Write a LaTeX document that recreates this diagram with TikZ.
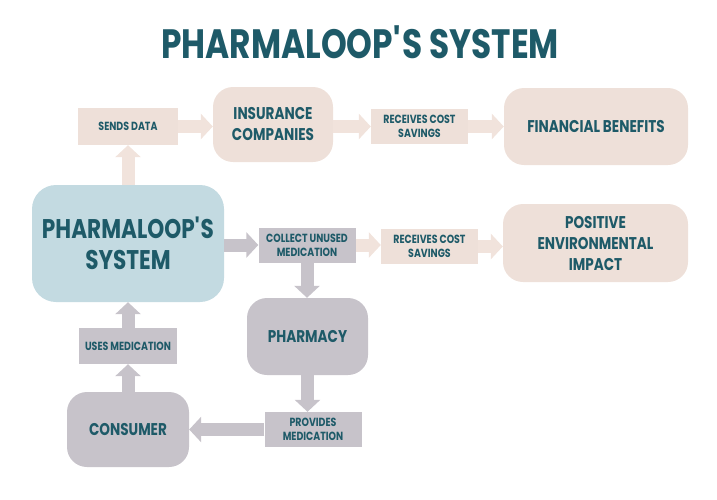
\documentclass[tikz,border=0pt]{standalone}
\usepackage{fontspec}
\setmainfont{Poppins}[FakeStretch=0.8]
\usetikzlibrary{arrows.meta}

\definecolor{inktext}{HTML}{1E5A68}
\definecolor{sand}{HTML}{EEE0D9}
\definecolor{sandarrow}{HTML}{F1E3DC}
\definecolor{stone}{HTML}{C7C3CA}
\definecolor{sky}{HTML}{C3DAE1}
\newcommand{\apos}{\textquotesingle}

\tikzset{
  bigbox/.style={rounded corners=20pt, align=center, text=inktext,
    font=\bfseries\fontsize{17}{21}\selectfont, inner sep=0pt},
  smallbox/.style={align=center, text=inktext,
    font=\bfseries\fontsize{11.8}{14}\selectfont, inner sep=0pt,
    minimum width=97pt, minimum height=35pt},
  flow/.style={line width=13pt, -{Triangle[length=12pt,width=25pt]}},
}

\begin{document}
\begin{tikzpicture}[x=1pt,y=-1pt]
\useasboundingbox (0,0) rectangle (717,499);
%title
\node[text=inktext, font=\bfseries\fontsize{41}{41}\selectfont] (title) at (360,42) {PHARMALOOP\apos S SYSTEM};
%big boxes
\node[bigbox, fill=sky, minimum width=192pt, minimum height=117pt, rounded corners=24pt,
  font=\bfseries\fontsize{27}{31}\selectfont] (main) at (128,243.5) {PHARMALOOP\apos S\\SYSTEM};
\node[bigbox, fill=sand, minimum width=120pt, minimum height=75pt] (insur) at (273,124.5) {INSURANCE\\COMPANIES};
\node[bigbox, fill=sand, minimum width=184pt, minimum height=77pt] (finance) at (596,126.5) {FINANCIAL BENEFITS};
\node[bigbox, fill=sand, minimum width=185pt, minimum height=78pt] (enviro) at (595.5,243) {POSITIVE\\ENVIRONMENTAL\\IMPACT};
\node[bigbox, fill=stone, minimum width=121pt, minimum height=77pt] (pharmacy) at (307.5,336.5) {PHARMACY};
\node[bigbox, fill=stone, minimum width=122pt, minimum height=75pt] (consumer) at (128,429.5) {CONSUMER};
%small boxes
\node[smallbox, fill=sand, minimum width=100pt, minimum height=37pt] (sends) at (128,126.5) {SENDS DATA};
\node[smallbox, fill=sand] (recvA) at (419.5,126.5) {RECEIVES COST\\SAVINGS};
\node[smallbox, fill=stone] (collect) at (307,245) {COLLECT UNUSED\\MEDICATION};
\node[smallbox, fill=sand] (recvB) at (429.5,246.5) {RECEIVES COST\\SAVINGS};
\node[smallbox, fill=stone] (provides) at (313,429.5) {PROVIDES\\MEDICATION};
\node[smallbox, fill=stone, minimum width=98pt, minimum height=36pt] (uses) at (128,346) {USES MEDICATION};
%arrows (top row)
\draw[flow, sandarrow] (main.north) -- (sends.south);
\draw[flow, sandarrow] (sends.east) -- (insur.west |- sends.east);
\draw[flow, sandarrow] (insur.east |- recvA.west) -- (recvA.west);
\draw[flow, sandarrow] (recvA.east) -- (finance.west |- recvA.east);
%arrows (middle)
\draw[flow, stone] (main.east |- collect.west) -- (collect.west);
\draw[flow, sandarrow] (collect.east) -- (recvB.west |- collect.east);
\draw[flow, sandarrow] (recvB.east) -- (enviro.west |- recvB.east);
\draw[flow, stone] (collect.south) -- (pharmacy.north -| collect.south);
%arrows (loop)
\draw[flow, stone] (pharmacy.south) -- (pharmacy.south |- provides.north);
\draw[flow, stone] (provides.west) -- (consumer.east |- provides.west);
\draw[flow, stone] (consumer.north) -- (uses.south);
\draw[flow, stone] (uses.north) -- (main.south);
\end{tikzpicture}
\end{document}
